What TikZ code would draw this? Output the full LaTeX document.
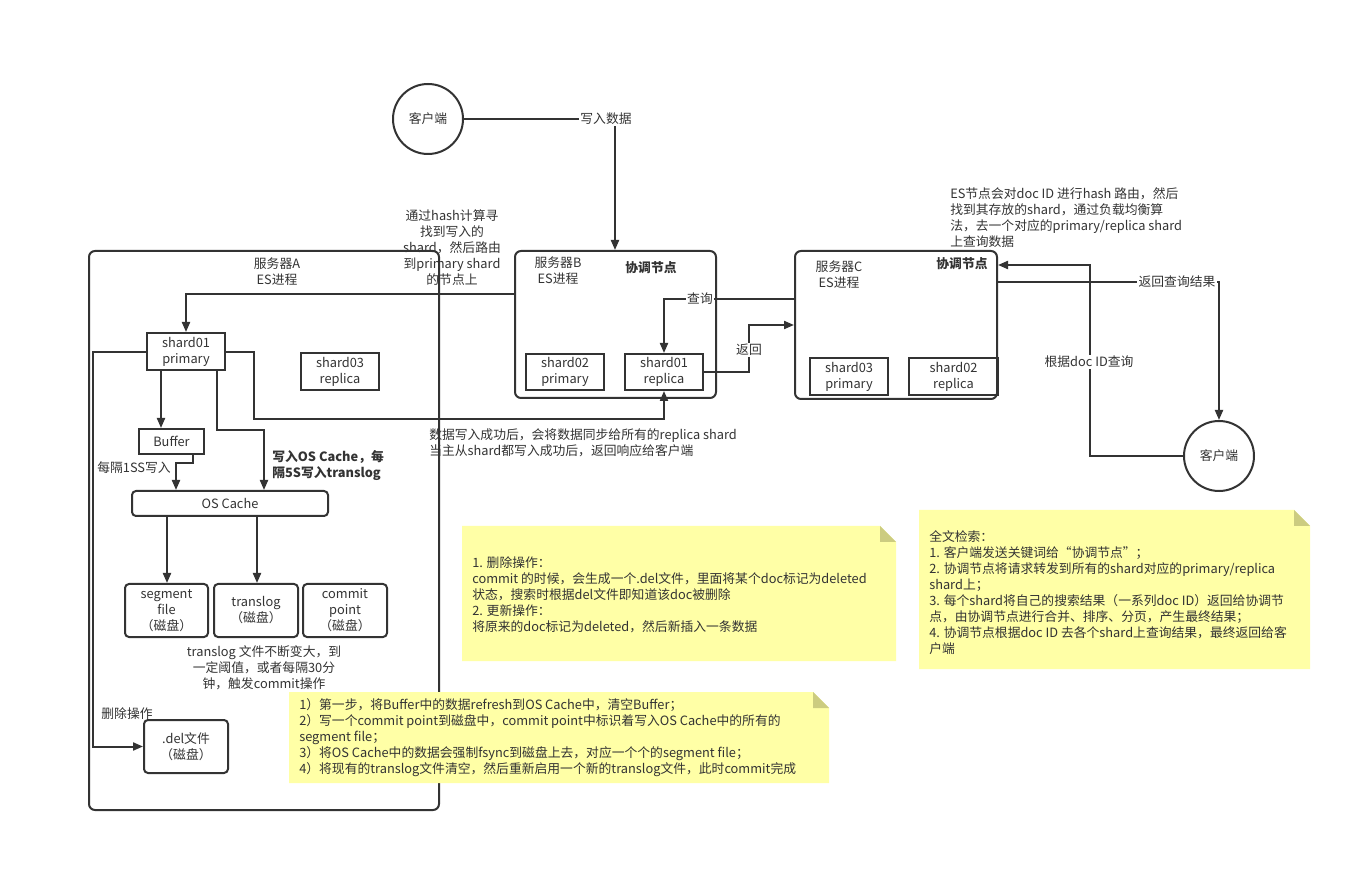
\documentclass[tikz,border=0pt]{standalone}
\usepackage{fontspec}
\setmainfont{Noto Sans CJK SC}
\usetikzlibrary{arrows.meta,fit}
\definecolor{lc}{HTML}{333333}
\definecolor{notefill}{HTML}{FFFFA6}
\definecolor{notefold}{HTML}{CCCC80}
\begin{document}
\begin{tikzpicture}[x=0.75pt,y=-0.75pt,
  font=\fontsize{9.6}{12}\selectfont, text=lc,
  line/.style={draw=lc, line width=1.5pt},
  arr/.style={line, -{Triangle[length=7.5pt,width=6pt]}},
  box/.style={draw=lc, line width=1.5pt, inner sep=0pt, align=center},
  rbox/.style={box, rounded corners=3pt},
  srv/.style={box, rounded corners=4.5pt},
  lbl/.style={fill=white, inner sep=1pt},
  txt/.style={inner sep=0pt, align=center},
  ltxt/.style={inner sep=0pt, align=left, anchor=west},
  boldf/.style={font=\fontsize{9.6}{12}\selectfont\bfseries},
  client/.style={circle, draw=lc, line width=1.5pt, minimum size=52.5pt, inner sep=0pt}]
\useasboundingbox[fill=white] (0,0) rectangle (1372,873);

% servers
\node[srv, fit={(89,251) (439,810)}] (A) {};
\node[srv, fit={(515,251) (716,398)}] (B) {};
\node[srv, fit={(795,251) (997,399)}] (C) {};

\node[txt] (Atitle) at (277,272) {服务器A\\ES进程};
\node[txt] (Btitle) at (558,271) {服务器B\\ES进程};
\node[txt, boldf] (Bco) at (651,268) {协调节点};
\node[txt] (Ctitle) at (839,275) {服务器C\\ES进程};
\node[txt, boldf] (Cco) at (962,264) {协调节点};

% clients
\node[client] (c1) at (428,119) {客户端};
\node[client] (c2) at (1219,456) {客户端};

% shards
\node[box, fit={(147,333) (225,370)}, label={[txt]center:{shard01\\primary}}] (s1p) {};
\node[box, fit={(301,353) (379,390)}, label={[txt]center:{shard03\\replica}}] (s3r) {};
\node[box, fit={(526,354) (604,390)}, label={[txt]center:{shard02\\primary}}] (s2p) {};
\node[box, fit={(625,354) (703,390)}, label={[txt]center:{shard01\\replica}}] (s1r) {};
\node[box, fit={(810,358) (888,395)}, label={[txt]center:{shard03\\primary}}] (s3p) {};
\node[box, fit={(909,358) (998,395)}, label={[txt]center:{shard02\\replica}}] (s2r) {};

% inside A
\node[box, fit={(139,429) (204,454)}, label={[txt]center:{Buffer}}] (buf) {};
\node[rbox, fit={(132,491) (328,516)}, label={[txt]center:{OS Cache}}] (os) {};
\node[rbox, fit={(125,584) (208,637)}, label={[txt]center:{segment\\file\\（磁盘）}}] (seg) {};
\node[rbox, fit={(214,584) (298,637)}, label={[txt]center:{translog\\（磁盘）}}] (tl) {};
\node[rbox, fit={(303,584) (387,637)}, label={[txt]center:{commit\\point\\（磁盘）}}] (cp) {};
\node[rbox, fit={(144,720) (228,773)}, label={[txt]center:{.del文件\\（磁盘）}}] (del) {};

% connectors
\draw[arr] (c1.east) -| (B.north -| 615,0);
\node[lbl] (l1) at (606,119) {写入数据};

\draw[arr] (B.west |- 0,294) -| (s1p.north);
\draw[arr] (s1p.south -| 161,0) -- (buf.north -| 161,0);
\draw[arr] (s1p.south -| 217,0) |- (264,430) -- (os.north -| 264,0);
\draw[arr] (buf.south -| 193,0) |- (176,463) -- (os.north -| 176,0);
\draw[arr] (os.south -| 167,0) -- (seg.north -| 167,0);
\draw[arr] (os.south -| 257,0) -- (tl.north -| 257,0);
\draw[arr] (s1p.west |- 0,352) -- (93,352) |- (del.west);
\draw[arr] (s1p.east |- 0,352) -| (254,419) -| (s1r.south);

\draw[arr] (C.west |- 0,299) -| (s1r.north);
\node[lbl] (l2) at (700,299) {查询};
\draw[arr] (s1r.east) -| (749,325) -- (C.west |- 0,325);
\node[lbl] (l3) at (749,350) {返回};

\draw[arr] (c2.west) -| (1090,265) -- (C.east |- 0,265);
\node[lbl] (l4) at (1089,362) {根据doc ID查询};
\draw[arr] (C.east |- 0,282) -| (c2.north);
\node[lbl] (l5) at (1177,282) {返回查询结果};

% free texts
\node[txt] (t1) at (452,248) {通过hash计算寻\\找到写入的\\shard，然后路由\\到primary shard\\的节点上};
\node[ltxt] (t2) at (950,218) {ES节点会对doc ID 进行hash 路由，然后\\找到其存放的shard，通过负载均衡算\\法，去一个对应的primary/replica shard\\上查询数据};
\node[ltxt] (t3) at (429,443) {数据写入成功后，会将数据同步给所有的replica shard\\当主从shard都写入成功后，返回响应给客户端};
\node[ltxt, boldf] (t4) at (272,466) {写入OS Cache，每\\隔5S写入translog};
\node[txt] (t5) at (134,468) {每隔1SS写入};
\node[txt] (t6) at (264,668) {translog 文件不断变大，到\\一定阈值，或者每隔30分\\钟，触发commit操作};
\node[txt] (t7) at (127,714) {删除操作};

% notes
\fill[notefill] (462,526) -- (880,526) -- (896,542) -- (896,661) -- (462,661) -- cycle;
\fill[notefold] (880,526) -- (896,542) -- (880,542) -- cycle;
\node[ltxt] (n1) at (472,595) {1. 删除操作：\\commit 的时候，会生成一个.del文件，里面将某个doc标记为deleted\\状态，搜索时根据del文件即知道该doc被删除\\2. 更新操作：\\将原来的doc标记为deleted，然后新插入一条数据};

\fill[notefill] (919,510) -- (1294,510) -- (1310,526) -- (1310,669) -- (919,669) -- cycle;
\fill[notefold] (1294,510) -- (1310,526) -- (1294,526) -- cycle;
\node[ltxt] (n2) at (929,593) {全文检索：\\1. 客户端发送关键词给“协调节点”；\\2. 协调节点将请求转发到所有的shard对应的primary/replica\\shard上；\\3. 每个shard将自己的搜索结果（一系列doc ID）返回给协调节\\点，由协调节点进行合并、排序、分页，产生最终结果；\\4. 协调节点根据doc ID 去各个shard上查询结果，最终返回给客\\户端};

\fill[notefill] (289,692) -- (813,692) -- (829,708) -- (829,783) -- (289,783) -- cycle;
\fill[notefold] (813,692) -- (829,708) -- (813,708) -- cycle;
\node[ltxt] (n3) at (299,738) {1）第一步，将Buffer中的数据refresh到OS Cache中，清空Buffer；\\2）写一个commit point到磁盘中，commit point中标识着写入OS Cache中的所有的\\segment file；\\3）将OS Cache中的数据会强制fsync到磁盘上去，对应一个个的segment file；\\4）将现有的translog文件清空，然后重新启用一个新的translog文件，此时commit完成};
\end{tikzpicture}
\end{document}
